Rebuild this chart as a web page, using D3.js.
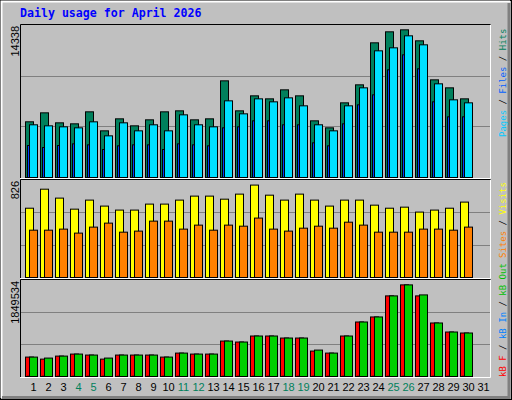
<!DOCTYPE html>
<html>
<head>
<meta charset="utf-8">
<script src="https://cdn.jsdelivr.net/npm/d3@7"></script>
<style>
  body { margin: 0; background: #fff; }
  svg { display: block; }
</style>
</head>
<body>
<div id="chart"></div>
<script>
const days = d3.range(1, 32);
const weekendDays = [4, 5, 11, 12, 18, 19, 25, 26];

// panel 1
const hits  = [5254, 6100, 5157, 5063, 6195, 4402, 5534, 4874, 5440, 6195, 6289, 5440, 5534, 9118, 6289, 7703,
               7420, 8269, 7703, 5346, 4685, 7043, 8741, 12704, 13742, 13930, 12893, 9212, 8458, 7420];
const files = [4971, 4874, 4780, 4685, 5251, 3930, 5157, 4402, 4971, 4402, 5911, 4971, 4780, 7232, 6006, 7420,
               7137, 7514, 6761, 4971, 4402, 6761, 8458, 11949, 12232, 13364, 12515, 8836, 7326, 7043];
const pages = [3018, 2830, 3018, 3175, 3081, 2641, 2987, 3081, 3081, 2641, 3175, 3081, 2987, 4685, 4780, 5346,
               5346, 4971, 4971, 3270, 2987, 5063, 6855, 7797, 10157, 11571, 10252, 7137, 5723, 5723];
// panel 2
const visits = [590, 752, 676, 582, 659, 608, 574, 574, 625, 625, 659, 693, 693, 667, 710, 787,
                701, 659, 710, 659, 608, 659, 659, 616, 590, 599, 557, 574, 590, 642];
const sites  = [403, 403, 412, 378, 429, 463, 386, 395, 480, 480, 412, 446, 403, 446, 437, 506,
                412, 395, 420, 437, 420, 471, 446, 386, 386, 386, 412, 412, 403, 429];
// panel 3 (kB)
const kbF   = [374000, 335000, 393000, 432000, 413000, 335000, 413000, 413000, 413000, 374000, 451000, 432000, 432000, 683000, 664000, 780000,
               780000, 741000, 741000, 490000, 451000, 780000, 1050000, 1147000, 1553000, 1765000, 1553000, 1031000, 857000, 838000];
const kbOut = [374000, 355000, 393000, 432000, 413000, 355000, 413000, 413000, 413000, 374000, 451000, 432000, 432000, 683000, 664000, 780000,
               780000, 741000, 741000, 509000, 451000, 780000, 1050000, 1147000, 1553000, 1765000, 1572000, 1031000, 857000, 838000];
const kbIn  = [5000, 5000, 5000, 5000, 5000, 5000, 5000, 5000, 5000, 5000, 5000, 5000, 5000, 5000, 5000, 5000,
               5000, 5000, 5000, 5000, 5000, 5000, 5000, 5000, 5000, 5000, 5000, 5000, 5000, 5000];

const maxHits = 14338, maxVisits = 826, maxKb = 1849534;

const W = 512, H = 400;
const svg = d3.select('#chart').append('svg').attr('width', W).attr('height', H);

// frame
svg.append('rect').attr('x', 0.5).attr('y', 0.5).attr('width', W - 1).attr('height', H - 1)
  .attr('fill', '#c0c0c0').attr('stroke', '#000');
svg.append('path').attr('d', 'M1.5,398V1.5H510').attr('stroke', '#fff').attr('stroke-width', 2).attr('fill', 'none');
svg.append('path').attr('d', 'M2,397.5H509V3').attr('stroke', '#808080').attr('stroke-width', 3).attr('fill', 'none');

svg.append('text').attr('x', 20).attr('y', 17)
  .attr('font-family', 'DejaVu Sans Mono').attr('font-weight', 'bold').attr('font-size', 11.6)
  .attr('fill', '#0000ff').text('Daily usage for April 2026');

// x scale: group start per day
const x = d3.scaleLinear().domain([1, 31]).range([25, 475]);

const panels = [
  { top: 25, bottom: 177, max: maxHits, label: '14338',
    series: [ { data: hits, dx: 0, w: 8, color: '#00805c' },
              { data: pages, dx: 2, w: 6, color: '#0040ff' },
              { data: files, dx: 4, w: 8, color: '#00e0ff' } ],
    legend: [['Pages', '#00c8ff'], [' / ', '#000'], ['Files', '#0060ff'], [' / ', '#000'], ['Hits', '#00805c']],
    legendY: 137 },
  { top: 180, bottom: 277, max: maxVisits, label: '826',
    series: [ { data: visits, dx: 0, w: 8, color: '#ffff00' },
              { data: sites, dx: 4, w: 8, color: '#ff8000' } ],
    legend: [['Sites', '#ff8000'], [' / ', '#000'], ['Visits', '#ffff00']],
    legendY: 258 },
  { top: 280, bottom: 376, max: maxKb, label: '1849534',
    series: [ { data: kbF, dx: 0, w: 8, color: '#ff0000' },
              { data: kbIn, dx: 2, w: 4, color: '#0080ff' },
              { data: kbOut, dx: 4, w: 8, color: '#00d000' } ],
    legend: [['kB F', '#ff0000'], [' / ', '#000'], ['kB In', '#0080ff'], [' / ', '#000'], ['kB Out', '#00c000']],
    legendY: 377 }
];

panels.forEach(function(p) {
  const y = d3.scaleLinear().domain([0, p.max]).range([p.bottom, p.top]);
  const g = svg.append('g');

  // grid lines at thirds
  g.selectAll('line.grid').data([p.max / 3, 2 * p.max / 3]).enter().append('line')
    .attr('x1', 20).attr('x2', 490)
    .attr('y1', function(d) { return Math.round(y(d)) + 0.5; })
    .attr('y2', function(d) { return Math.round(y(d)) + 0.5; })
    .attr('stroke', '#808080').attr('stroke-width', 1);

  // border: black top/left, white bottom/right
  g.append('path').attr('d', 'M20.5,' + (p.bottom + 2) + 'V' + (p.top - 0.5) + 'H490.5')
    .attr('stroke', '#000').attr('fill', 'none');
  g.append('path').attr('d', 'M20,' + (p.bottom + 1.5) + 'H490.5V' + p.top)
    .attr('stroke', '#fff').attr('fill', 'none');

  p.series.forEach(function(s) {
    g.selectAll(null).data(s.data).enter().append('rect')
      .attr('x', function(d, i) { return x(i + 1) + s.dx + 0.5; })
      .attr('y', function(d) { return y(d) + 0.5; })
      .attr('width', s.w)
      .attr('height', function(d) { return Math.max(0, p.bottom - y(d)); })
      .attr('fill', s.color).attr('stroke', '#000').attr('stroke-width', 1);
  });

  svg.append('text')
    .attr('transform', 'translate(19,' + (p.top + 1) + ') rotate(-90)')
    .attr('text-anchor', 'end').attr('font-family', 'Liberation Sans').attr('font-size', 11)
    .attr('fill', '#000').text(p.label);

  const t = svg.append('text')
    .attr('transform', 'translate(506,' + p.legendY + ') rotate(-90)')
    .attr('font-family', 'DejaVu Sans Mono').attr('font-size', 9);
  p.legend.forEach(function(l) {
    t.append('tspan').attr('fill', l[1]).attr('xml:space', 'preserve').text(l[0]);
  });
});

// day axis
const xc = d3.scaleLinear().domain([1, 31]).range([33, 483]);
const axis = svg.append('g').attr('transform', 'translate(0,380)')
  .call(d3.axisBottom(xc).tickValues(days).tickSize(0).tickFormat(d3.format('d')));
axis.select('.domain').remove();
axis.selectAll('text')
  .attr('font-family', 'Liberation Sans').attr('font-size', 11).attr('dy', '0.75em')
  .attr('fill', function(d) { return weekendDays.indexOf(d) >= 0 ? '#00805c' : '#000'; });
</script>
</body>
</html>
